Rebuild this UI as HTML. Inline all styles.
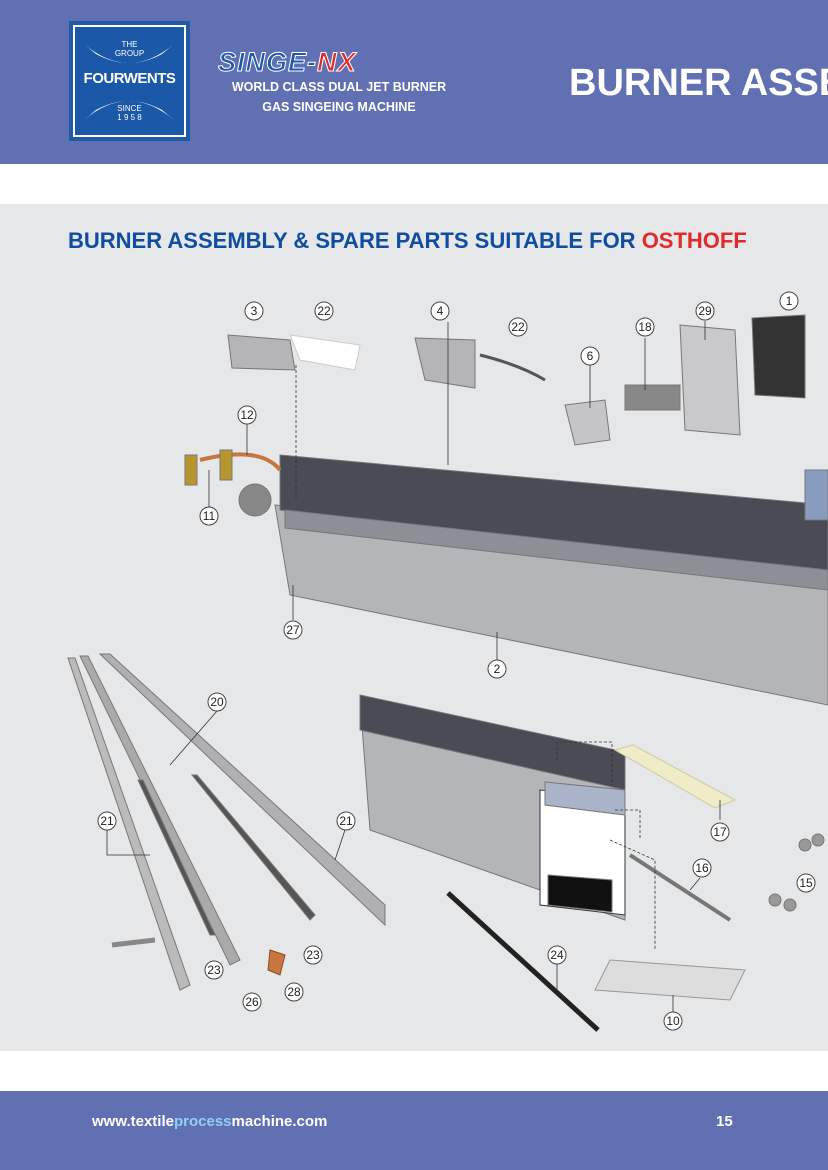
<!DOCTYPE html>
<html><head><meta charset="utf-8"><style>
html,body{margin:0;padding:0}
body{width:828px;height:1170px;overflow:hidden;background:#fff;font-family:"Liberation Sans",sans-serif}
#w{position:relative;width:828px;height:1170px;overflow:hidden}
.hdr{position:absolute;left:0;top:0;width:828px;height:164px;background:#6170b3}
.gray{position:absolute;left:0;top:204px;width:828px;height:847px;background:#e6e7e9}
.ftr{position:absolute;left:0;top:1091px;width:828px;height:79px;background:#6170b3}
.t{position:absolute;white-space:nowrap}
</style></head><body><div id="w">
<div class="hdr"></div>
<div class="gray"></div>
<div class="ftr"></div>
<div style="position:absolute;left:69px;top:21px;width:121px;height:120px;background:#1f5aa8"></div>
<div style="position:absolute;left:73px;top:25px;width:113px;height:112px;border:2px solid #fff;box-sizing:border-box;background:#1b58a8"></div>
<div class="t" style="left:0;width:259px;text-align:center;top:40px;color:#fff;font-size:8px;line-height:9px">THE<br>GROUP</div>
<div class="t" style="left:0;width:259px;text-align:center;top:70px;color:#fff;font-size:15px;font-weight:bold;letter-spacing:-0.5px">FOURWENTS</div>
<div class="t" style="left:0;width:259px;text-align:center;top:104px;color:#fff;font-size:8px;line-height:9px">SINCE<br>1 9 5 8</div>
<svg style="position:absolute;left:0;top:0" width="828" height="164">
<path d="M84 44 Q129 82 174 44 L162 54 Q129 72 96 54Z" fill="#fff"/>
<path d="M84 120 Q129 82 174 120 L162 110 Q129 92 96 110Z" fill="#fff"/>
</svg>
<div class="t" style="left:218px;top:47px;font-size:27px;font-weight:bold;font-style:italic;color:#1f5aa8;letter-spacing:1px;-webkit-text-stroke:1px #fff">SINGE-<span style="color:#e02b2b">NX</span></div>
<div class="t" style="left:214px;top:77px;width:250px;text-align:center;font-size:12.5px;font-weight:bold;color:#fff;line-height:20px">WORLD CLASS DUAL JET BURNER<br>GAS SINGEING MACHINE</div>
<div class="t" style="left:569px;top:62px;font-size:38px;font-weight:bold;color:#fff">BURNER ASSEMBLY</div>
<div class="t" style="left:68px;top:228px;font-size:22px;font-weight:bold;color:#0f4da0">BURNER ASSEMBLY &amp; SPARE PARTS SUITABLE FOR <span style="color:#e02b2b">OSTHOFF</span></div>
<svg style="position:absolute;left:0;top:204px" width="828" height="847" viewBox="0 204 828 847">
<g fill="#9a9ca2" stroke="#777" stroke-width="1">
<polygon points="275,505 828,560 828,705 290,595" fill="#b4b5b9"/>
<polygon points="280,455 828,505 828,570 280,510" fill="#4a4b55"/>
<polygon points="285,510 828,570 828,590 285,528" fill="#8d8f96"/>
<polygon points="360,700 625,760 625,920 370,830" fill="#b4b5b9"/>
<polygon points="360,695 625,752 625,790 360,730" fill="#4a4b55"/>
<polygon points="540,790 625,800 625,915 540,905" fill="#fff" stroke="#333"/>
<polygon points="548,875 612,880 612,912 548,905" fill="#111"/>
<polygon points="545,782 625,790 625,815 545,805" fill="#aab4c8"/>
<polygon points="68,658 75,658 190,985 180,990" fill="#bbb"/>
<polygon points="80,656 88,656 240,960 230,965" fill="#aaa"/>
<polygon points="100,654 110,654 385,905 385,925" fill="#b0b0b4"/>
<polygon points="138,780 143,780 215,935 210,935" fill="#555"/>
<polygon points="192,775 197,775 315,915 310,920" fill="#555"/>
<polygon points="270,950 285,955 280,975 268,970" fill="#c8763f" stroke="#8a4a20"/>
<line x1="112" y1="945" x2="155" y2="940" stroke="#888" stroke-width="5"/>
<line x1="448" y1="893" x2="598" y2="1030" stroke="#222" stroke-width="5"/>
<line x1="630" y1="855" x2="730" y2="920" stroke="#777" stroke-width="4"/>
<polygon points="610,960 745,970 730,1000 595,990" fill="#ddd" stroke="#999"/>
<polygon points="615,750 633,745 735,800 715,808" fill="#f0ecc8" stroke="#cfc9a0"/>
<polygon points="228,335 290,340 295,370 232,368" fill="#b5b5b8"/>
<polygon points="290,335 360,345 355,370 300,360" fill="#fff" stroke="#ccc"/>
<polygon points="415,338 475,340 475,388 425,380" fill="#b5b5b8"/>
<path d="M480 355 Q520 365 545 380" stroke="#555" stroke-width="3" fill="none"/>
<polygon points="565,405 605,400 610,440 575,445" fill="#c5c5c8"/>
<polygon points="680,325 735,330 740,435 685,430" fill="#c9c9cc"/>
<rect x="625" y="385" width="55" height="25" fill="#888"/>
<polygon points="752,318 805,315 805,398 755,395" fill="#333"/>
<rect x="805" y="470" width="23" height="50" fill="#8a9bc0"/>
<path d="M200 460 Q260 445 280 470" stroke="#c8763f" stroke-width="4" fill="none"/>
<rect x="185" y="455" width="12" height="30" fill="#b8962f"/>
<rect x="220" y="450" width="12" height="30" fill="#b8962f"/>
<circle cx="255" cy="500" r="16" fill="#888"/>
<circle cx="775" cy="900" r="6" fill="#999"/><circle cx="790" cy="905" r="6" fill="#999"/><circle cx="805" cy="845" r="6" fill="#999"/><circle cx="818" cy="840" r="6" fill="#999"/>
</g>
<g fill="none" stroke="#333" stroke-width="0.8">
<line x1="296" y1="365" x2="296" y2="500" stroke-dasharray="3,2"/>
<line x1="448" y1="322" x2="448" y2="465"/>
<line x1="590" y1="365" x2="590" y2="408"/>
<line x1="645" y1="338" x2="645" y2="390"/>
<line x1="705" y1="321" x2="705" y2="340"/>
<line x1="247" y1="424" x2="247" y2="455"/>
<line x1="209" y1="470" x2="209" y2="507"/>
<line x1="293" y1="585" x2="293" y2="620"/>
<line x1="497" y1="632" x2="497" y2="660"/>
<line x1="217" y1="711" x2="170" y2="765"/>
<polyline points="107,830 107,855 150,855"/>
<line x1="345" y1="830" x2="335" y2="860"/>
<line x1="720" y1="820" x2="720" y2="800"/>
<line x1="700" y1="878" x2="690" y2="890"/>
<line x1="557" y1="964" x2="557" y2="990"/>
<line x1="673" y1="1012" x2="673" y2="995"/>
<polyline points="557,760 557,742 612,742 612,785" stroke-dasharray="3,2"/>
<polyline points="615,810 640,810 640,840" stroke-dasharray="3,2"/>
<polyline points="610,840 655,860 655,950" stroke-dasharray="3,2"/>
</g>
<g font-size="12" font-family="Liberation Sans" text-anchor="middle" fill="#222">
<g fill="#fff" stroke="#444" stroke-width="1">
<circle cx="254" cy="311" r="9"/><circle cx="324" cy="311" r="9"/><circle cx="440" cy="311" r="9"/><circle cx="518" cy="327" r="9"/>
<circle cx="645" cy="327" r="9"/><circle cx="705" cy="311" r="9"/><circle cx="789" cy="301" r="9"/><circle cx="590" cy="356" r="9"/>
<circle cx="247" cy="415" r="9"/><circle cx="209" cy="516" r="9"/><circle cx="293" cy="630" r="9"/><circle cx="497" cy="669" r="9"/>
<circle cx="217" cy="702" r="9"/><circle cx="107" cy="821" r="9"/><circle cx="346" cy="821" r="9"/><circle cx="720" cy="832" r="9"/>
<circle cx="702" cy="868" r="9"/><circle cx="806" cy="883" r="9"/><circle cx="557" cy="955" r="9"/><circle cx="214" cy="970" r="9"/>
<circle cx="313" cy="955" r="9"/><circle cx="294" cy="992" r="9"/><circle cx="252" cy="1002" r="9"/><circle cx="673" cy="1021" r="9"/>
</g>
<text x="254" y="315">3</text><text x="324" y="315">22</text><text x="440" y="315">4</text><text x="518" y="331">22</text>
<text x="645" y="331">18</text><text x="705" y="315">29</text><text x="789" y="305">1</text><text x="590" y="360">6</text>
<text x="247" y="419">12</text><text x="209" y="520">11</text><text x="293" y="634">27</text><text x="497" y="673">2</text>
<text x="217" y="706">20</text><text x="107" y="825">21</text><text x="346" y="825">21</text><text x="720" y="836">17</text>
<text x="702" y="872">16</text><text x="806" y="887">15</text><text x="557" y="959">24</text><text x="214" y="974">23</text>
<text x="313" y="959">23</text><text x="294" y="996">28</text><text x="252" y="1006">26</text><text x="673" y="1025">10</text>
</g>
</svg>
<div class="t" style="left:92px;top:1113px;font-size:15px;font-weight:bold;color:#fff">www.textile<span style="color:#8fd0f5">process</span>machine.com</div>
<div class="t" style="left:716px;top:1113px;font-size:15px;font-weight:bold;color:#fff">15</div>
</div></body></html>
